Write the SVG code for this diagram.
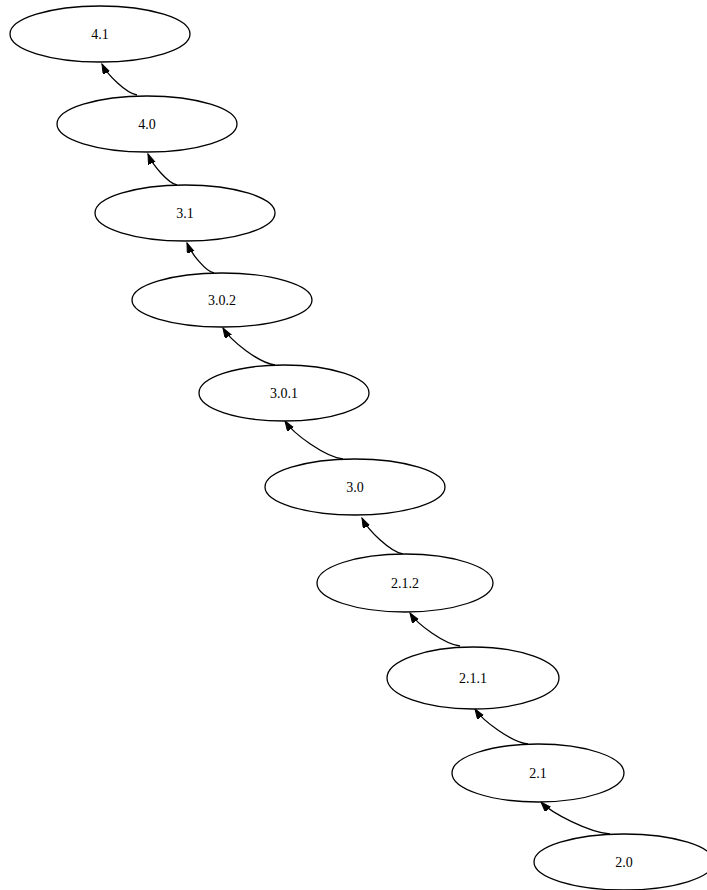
<svg xmlns="http://www.w3.org/2000/svg" width="707" height="890" viewBox="0 0 707 890">
<style>
.n ellipse{fill:#fff;stroke:#000;stroke-width:1.3}
.n text{font-family:"Liberation Serif",serif;font-size:14px;text-anchor:middle;dominant-baseline:central;fill:#000}
.e path{fill:none;stroke:#000;stroke-width:1.3;marker-end:url(#arr)}
</style>
<defs>
<marker id="arr" markerUnits="userSpaceOnUse" markerWidth="11" markerHeight="8" refX="10" refY="3.5" orient="auto">
<polygon points="0,0 10,3.5 0,7" fill="#000" stroke="#000" stroke-width="1"/>
</marker>
</defs>
<rect width="707" height="890" fill="#fff"/>
<g id="edges" class="e">
<path d="M137,95 C126.5,93.5 107.3,74.9 102,64"/>
<path d="M177,185 C168.3,183.5 152.4,164.9 148,154"/>
<path d="M214,273 C205.9,271.5 191,253.5 187,243"/>
<path d="M275,365 C259.4,363.2 230.8,341 223,328"/>
<path d="M343,459 C325.6,457.1 293.7,434.3 285,421"/>
<path d="M403,554 C390.7,552.2 368.2,530.6 362,518"/>
<path d="M460,646 C445,644.4 417.5,624.6 410,613"/>
<path d="M528,744 C512.1,742.3 483,721.3 475,709"/>
<path d="M610,834 C589.3,832.4 551.4,813.2 541,802"/>
</g>
<g id="n41" class="n"><ellipse cx="100" cy="34" rx="90" ry="28"/><text x="100" y="34">4.1</text></g>
<g id="n40" class="n"><ellipse cx="147" cy="124" rx="90" ry="28"/><text x="147" y="124">4.0</text></g>
<g id="n31" class="n"><ellipse cx="185" cy="213" rx="90" ry="28"/><text x="185" y="213">3.1</text></g>
<g id="n302" class="n"><ellipse cx="222" cy="300" rx="90" ry="27"/><text x="222" y="300">3.0.2</text></g>
<g id="n301" class="n"><ellipse cx="284" cy="393" rx="85" ry="28"/><text x="284" y="393">3.0.1</text></g>
<g id="n30" class="n"><ellipse cx="355" cy="487" rx="90" ry="28"/><text x="355" y="487">3.0</text></g>
<g id="n212" class="n"><ellipse cx="405" cy="583" rx="88" ry="29"/><text x="405" y="583">2.1.2</text></g>
<g id="n211" class="n"><ellipse cx="473" cy="678" rx="86" ry="31"/><text x="473" y="678">2.1.1</text></g>
<g id="n21" class="n"><ellipse cx="538" cy="773" rx="86" ry="29"/><text x="538" y="773">2.1</text></g>
<g id="n20" class="n"><ellipse cx="624" cy="862" rx="90" ry="28"/><text x="624" y="862">2.0</text></g>
</svg>
